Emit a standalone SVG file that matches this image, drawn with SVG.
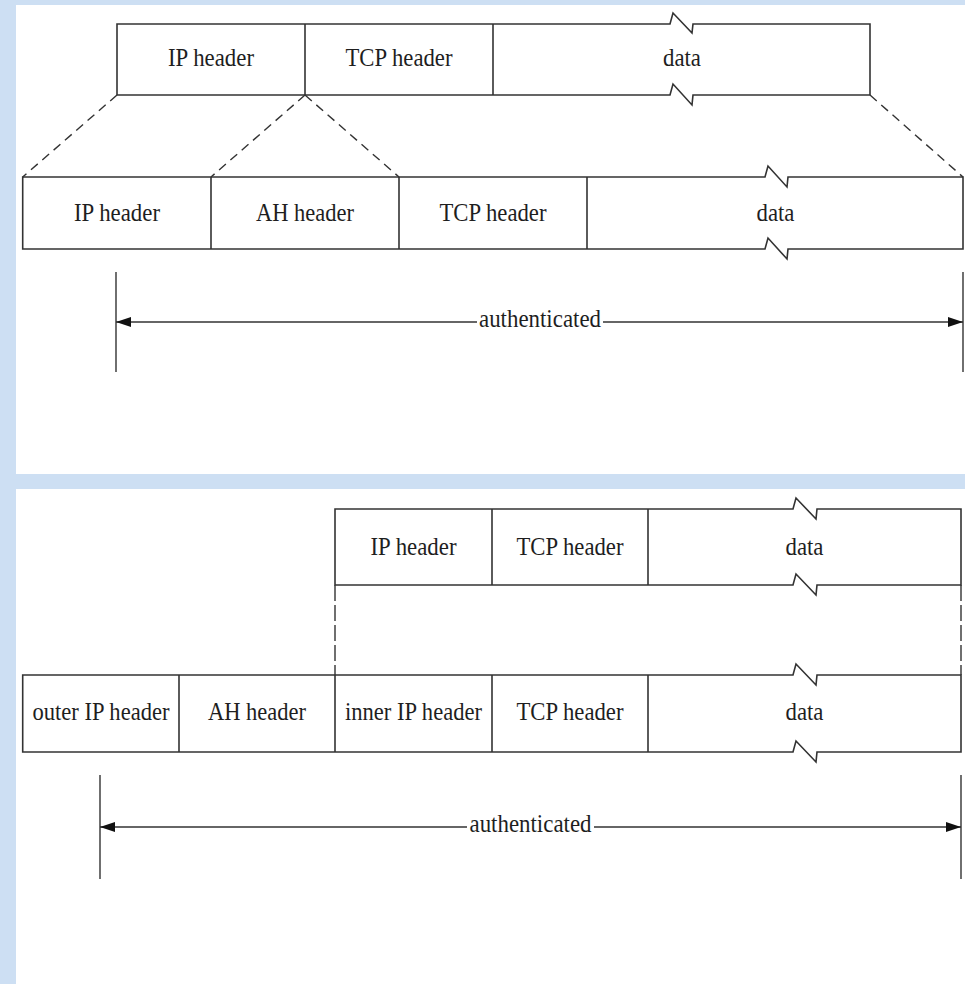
<svg xmlns="http://www.w3.org/2000/svg" width="965" height="984" viewBox="0 0 965 984">
  <style>
    .box { fill: none; stroke: #333; stroke-width: 1.6; stroke-linejoin: miter; }
    .div { stroke: #333; stroke-width: 1.6; }
    .dash { stroke: #333; stroke-width: 1.4; stroke-dasharray: 9 6; fill: none; }
    .vdash { stroke: #333; stroke-width: 1.4; stroke-dasharray: 16 4; fill: none; }
    .tick { stroke: #333; stroke-width: 1.4; }
    .arr { stroke: #333; stroke-width: 1.7; fill: none; }
    .lbl { font-family: "Liberation Serif", "Times New Roman", serif; font-size: 25px; fill: #1e1e1e; text-anchor: middle; }
  </style>
  <defs>
    <marker id="ah" viewBox="0 0 15 10" refX="15" refY="5" markerWidth="15" markerHeight="10" markerUnits="userSpaceOnUse" orient="auto-start-reverse">
      <path d="M0,0 L15,5 L0,10 Z" fill="#111"/>
    </marker>
  </defs>

  <!-- background -->
  <rect x="0" y="0" width="965" height="984" fill="#cddff3"/>
  <rect x="16" y="5" width="949" height="469" fill="#ffffff"/>
  <rect x="16" y="489" width="949" height="495" fill="#ffffff"/>

  <!-- Top: original packet -->
  <g id="packet1">
    <path class="box" d="M117,24 H670 L673,13 L692,33 L693,24 H870 V95 H693 L692,105 L673,84 L670,95 H117 Z"/>
    <line class="div" x1="305" y1="24" x2="305" y2="95"/>
    <line class="div" x1="493" y1="24" x2="493" y2="95"/>
    <g id="p1-ip"><text class="lbl" x="211" y="66" textLength="86" lengthAdjust="spacingAndGlyphs">IP header</text></g>
    <g id="p1-tcp"><text class="lbl" x="399" y="66" textLength="107" lengthAdjust="spacingAndGlyphs">TCP header</text></g>
    <g id="p1-data"><text class="lbl" x="682" y="66" textLength="38" lengthAdjust="spacingAndGlyphs">data</text></g>
  </g>

  <!-- Top: packet with AH (transport mode) -->
  <g id="packet2">
    <path class="box" d="M22.7,177 H765 L768,166 L787,187 L788,177 H963 V249 H788 L787,259 L768,238 L765,249 H22.7 Z"/>
    <line class="div" x1="211" y1="177" x2="211" y2="249"/>
    <line class="div" x1="399" y1="177" x2="399" y2="249"/>
    <line class="div" x1="587" y1="177" x2="587" y2="249"/>
    <g id="p2-ip"><text class="lbl" x="117" y="221" textLength="86" lengthAdjust="spacingAndGlyphs">IP header</text></g>
    <g id="p2-ah"><text class="lbl" x="305" y="221" textLength="98" lengthAdjust="spacingAndGlyphs">AH header</text></g>
    <g id="p2-tcp"><text class="lbl" x="493" y="221" textLength="107" lengthAdjust="spacingAndGlyphs">TCP header</text></g>
    <g id="p2-data"><text class="lbl" x="775.5" y="221" textLength="38" lengthAdjust="spacingAndGlyphs">data</text></g>
  </g>

  <!-- Bottom: original packet -->
  <g id="packet3">
    <path class="box" d="M335,509 H793 L796,498 L816,519 L817,509 H961 V585 H817 L816,595 L796,574 L793,585 H335 Z"/>
    <line class="div" x1="492" y1="509" x2="492" y2="585"/>
    <line class="div" x1="648" y1="509" x2="648" y2="585"/>
    <g id="p3-ip"><text class="lbl" x="413.5" y="555" textLength="86" lengthAdjust="spacingAndGlyphs">IP header</text></g>
    <g id="p3-tcp"><text class="lbl" x="570" y="555" textLength="107" lengthAdjust="spacingAndGlyphs">TCP header</text></g>
    <g id="p3-data"><text class="lbl" x="804.5" y="555" textLength="38" lengthAdjust="spacingAndGlyphs">data</text></g>
  </g>

  <!-- Bottom: tunnel mode packet -->
  <g id="packet4">
    <path class="box" d="M22.7,675 H793 L796,664 L816,685 L817,675 H961 V752 H817 L816,762 L796,741 L793,752 H22.7 Z"/>
    <line class="div" x1="179" y1="675" x2="179" y2="752"/>
    <line class="div" x1="335" y1="675" x2="335" y2="752"/>
    <line class="div" x1="492" y1="675" x2="492" y2="752"/>
    <line class="div" x1="648" y1="675" x2="648" y2="752"/>
    <g id="p4-outer"><text class="lbl" x="101" y="720" textLength="137" lengthAdjust="spacingAndGlyphs">outer IP header</text></g>
    <g id="p4-ah"><text class="lbl" x="257" y="720" textLength="98" lengthAdjust="spacingAndGlyphs">AH header</text></g>
    <g id="p4-inner"><text class="lbl" x="413.5" y="720" textLength="137" lengthAdjust="spacingAndGlyphs">inner IP header</text></g>
    <g id="p4-tcp"><text class="lbl" x="570" y="720" textLength="107" lengthAdjust="spacingAndGlyphs">TCP header</text></g>
    <g id="p4-data"><text class="lbl" x="804.5" y="720" textLength="38" lengthAdjust="spacingAndGlyphs">data</text></g>
  </g>

  <!-- connectors -->
  <g id="connectors">
    <line class="dash" x1="117" y1="95" x2="22.7" y2="177"/>
    <line class="dash" x1="305" y1="95" x2="211" y2="177"/>
    <line class="dash" x1="305" y1="95" x2="399" y2="177"/>
    <line class="dash" x1="870" y1="95" x2="963" y2="177"/>

    <line class="vdash" x1="335" y1="585" x2="335" y2="675"/>
    <line class="vdash" x1="961" y1="585" x2="961" y2="675"/>

    <line class="tick" x1="116" y1="272" x2="116" y2="372"/>
    <line class="tick" x1="963" y1="272" x2="963" y2="372"/>
    <line class="arr" x1="477" y1="322" x2="116" y2="322" marker-end="url(#ah)"/>
    <line class="arr" x1="603" y1="322" x2="963" y2="322" marker-end="url(#ah)"/>

    <line class="tick" x1="100" y1="775" x2="100" y2="879"/>
    <line class="tick" x1="961" y1="775" x2="961" y2="879"/>
    <line class="arr" x1="467" y1="827" x2="100" y2="827" marker-end="url(#ah)"/>
    <line class="arr" x1="594" y1="827" x2="961" y2="827" marker-end="url(#ah)"/>
  </g>

  <g id="label-auth1"><text class="lbl" x="540" y="327" textLength="122" lengthAdjust="spacingAndGlyphs">authenticated</text></g>
  <g id="label-auth2"><text class="lbl" x="530.5" y="832" textLength="122" lengthAdjust="spacingAndGlyphs">authenticated</text></g>
</svg>
